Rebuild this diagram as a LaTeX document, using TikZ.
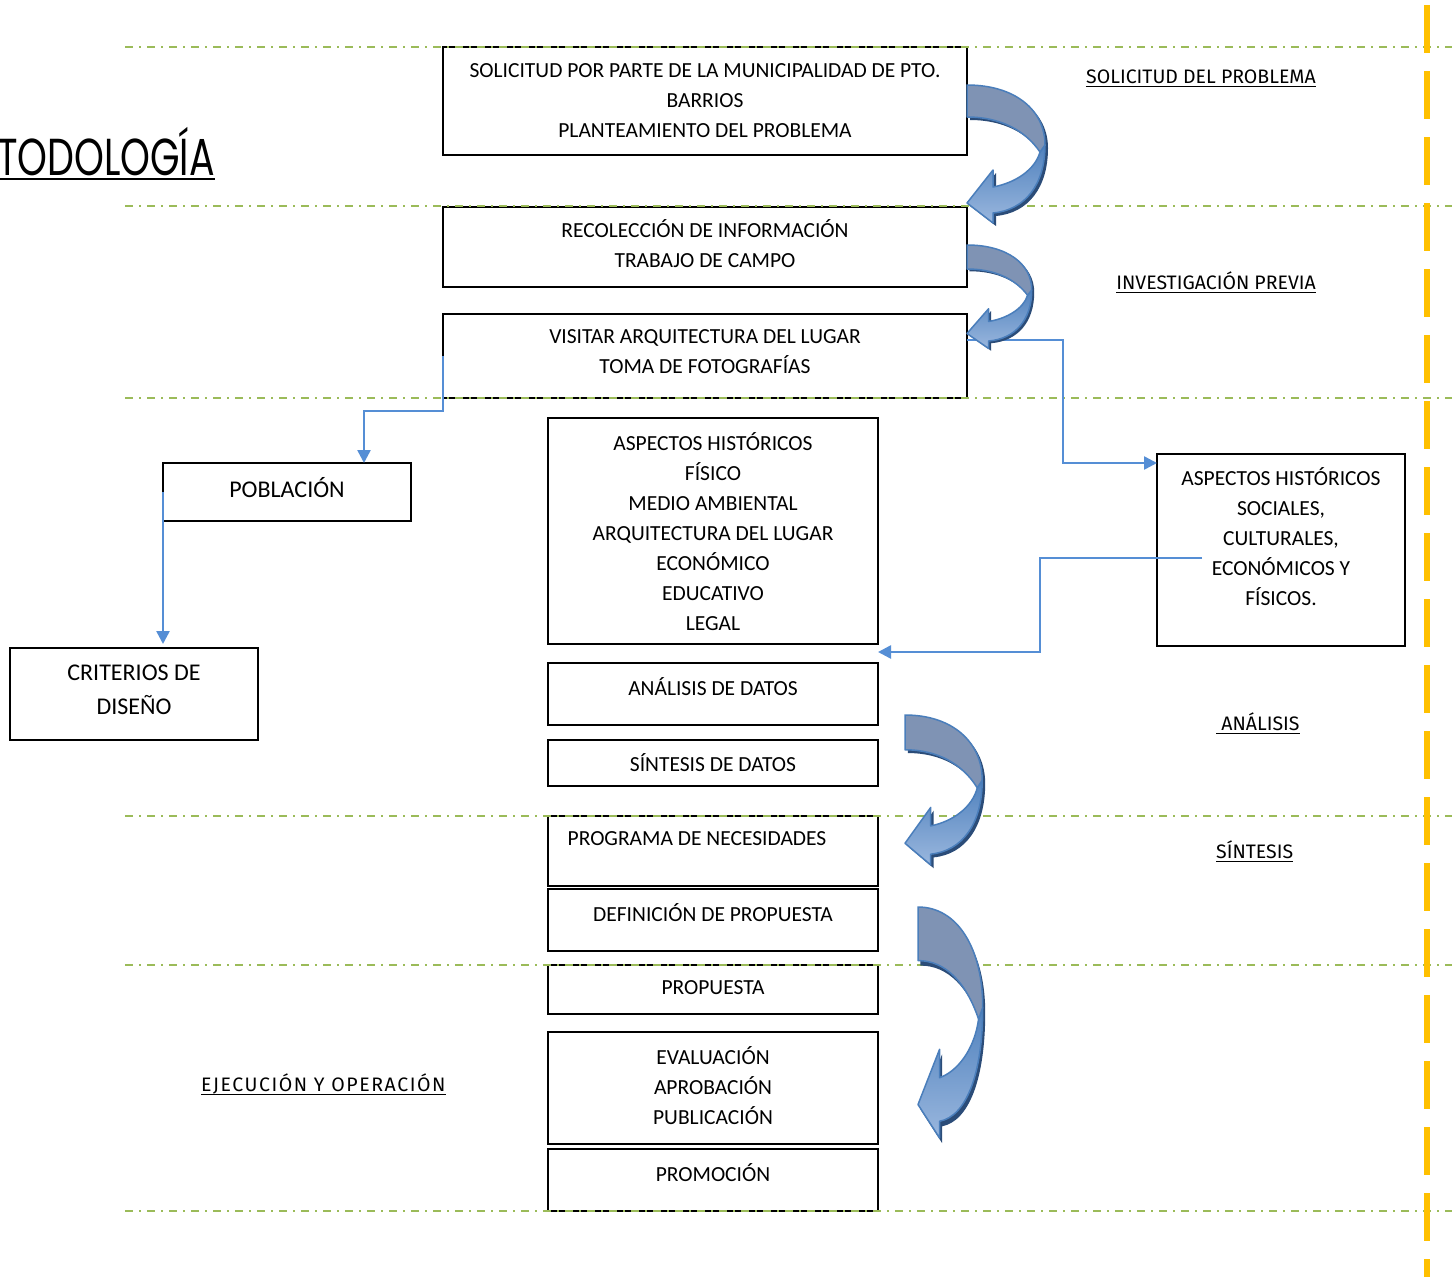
\documentclass[tikz,border=0pt]{standalone}
\usepackage{fontspec}
\setmainfont{Carlito}
\newfontfamily\lblfont{Fira Sans}
\newfontfamily\lblwide[LetterSpace=8]{Fira Sans}
\newfontfamily\titlefont[FakeStretch=0.73]{Poppins}
\usetikzlibrary{arrows.meta}
\definecolor{grn}{HTML}{9BBB59}
\definecolor{org}{HTML}{FFC000}
\definecolor{conn}{HTML}{558ED5}
\definecolor{arrgrey}{HTML}{7F93B4}
\definecolor{arrtop}{HTML}{4F81BD}
\definecolor{arrbot}{HTML}{9AB7DE}
\definecolor{arredge}{HTML}{4A7EBB}
\definecolor{arrshadow}{HTML}{2B4C78}
\tikzset{
  boxr/.style={draw=black, line width=1.8pt, inner sep=0, outer sep=0, anchor=north west},
  txt/.style={font=\fontsize{21.5}{30}\selectfont, align=center, inner sep=0},
  bigtxt/.style={font=\fontsize{24}{34}\selectfont, align=center, inner sep=0},
  lbl/.style={font=\lblfont\fontsize{19.5}{22}\selectfont, inner sep=0, anchor=base west},
  uline/.style={line width=1.3pt},
  greenline/.style={grn, line width=2.5pt, dash pattern=on 8pt off 6pt on 2pt off 6pt},
  conn/.style={draw=conn, line width=2.5pt, -{Triangle[length=13pt,width=13pt]}},
  curvarrow/.pic={
    \fill[arrshadow] (3,3) .. controls (51,3) and (81,28) .. (81,63) .. controls (81,103) and (61,128) .. (29,131) -- (29,141) -- (3,121) -- (29,88) -- (29,105) .. controls (51,101) and (71,88) .. (76,70) .. controls (61,48) and (36,35) .. (3,35) -- cycle;
    \shade[top color=arrtop, bottom color=arrbot, draw=arredge, line width=1.5pt, line join=round]
      (78,60) .. controls (78,100) and (58,125) .. (26,128) -- (26,138) -- (0,118) -- (26,85) -- (26,102) .. controls (48,98) and (68,85) .. (73,67) -- cycle;
    \filldraw[fill=arrgrey, draw=arredge, line width=1.5pt, line join=round]
      (0,0) .. controls (48,0) and (78,25) .. (78,60) -- (73,67) .. controls (58,45) and (33,32) .. (0,32) -- cycle;
  }
}
\begin{document}
\begin{tikzpicture}[x=1pt,y=-1pt]
\clip (0,0) rectangle (1452,1277);
\fill[white] (0,0) rectangle (1452,1277);

% title
\node[font=\titlefont\fontsize{52}{60}\selectfont, anchor=base east, inner sep=0] (title) at (215,175) {METODOLOGÍA};
\draw[line width=2pt] ([yshift=-4pt]title.base west) -- ([yshift=-4pt]title.base east);

% boxes
\node[boxr, minimum width=524pt, minimum height=108pt] (b1) at (443,47) {};
\node[boxr, minimum width=524pt, minimum height=80pt] (b2) at (443,207) {};
\node[boxr, minimum width=524pt, minimum height=84pt] (b3) at (443,314) {};
\node[boxr, minimum width=330pt, minimum height=226pt] (b4) at (548,418) {};
\node[boxr, minimum width=330pt, minimum height=62pt] (b5) at (548,663) {};
\node[boxr, minimum width=330pt, minimum height=46pt] (b6) at (548,740) {};
\node[boxr, minimum width=330pt, minimum height=70pt] (b7) at (548,816) {};
\node[boxr, minimum width=330pt, minimum height=62pt] (b8) at (548,889) {};
\node[boxr, minimum width=330pt, minimum height=49pt] (b9) at (548,965) {};
\node[boxr, minimum width=330pt, minimum height=112pt] (b10) at (548,1032) {};
\node[boxr, minimum width=330pt, minimum height=62pt] (b11) at (548,1149) {};
\node[boxr, minimum width=248pt, minimum height=58pt] (pob) at (163,463) {};
\node[boxr, minimum width=248pt, minimum height=92pt] (crit) at (10,648) {};
\node[boxr, minimum width=248pt, minimum height=192pt] (rb) at (1157,454) {};

% box texts
\node[txt] (t1) at (705,101) {SOLICITUD POR PARTE DE LA MUNICIPALIDAD DE PTO.\\BARRIOS\\PLANTEAMIENTO DEL PROBLEMA};
\node[txt] (t2) at (705,244) {RECOLECCIÓN DE INFORMACIÓN\\TRABAJO DE CAMPO};
\node[txt] (t3) at (705,352) {VISITAR ARQUITECTURA DEL LUGAR\\TOMA DE FOTOGRAFÍAS};
\node[txt] (t4) at (713,532) {ASPECTOS HISTÓRICOS\\FÍSICO\\MEDIO AMBIENTAL\\ARQUITECTURA DEL LUGAR\\ECONÓMICO\\EDUCATIVO\\LEGAL};
\node[txt] (t5) at (713,687) {ANÁLISIS DE DATOS};
\node[txt] (t6) at (713,763) {SÍNTESIS DE DATOS};
\node[txt] (t7) at (697,839) {PROGRAMA DE NECESIDADES};
\node[txt] (t8) at (713,913) {DEFINICIÓN DE PROPUESTA};
\node[txt] (t9) at (713,988) {PROPUESTA};
\node[txt] (t10) at (713,1086) {EVALUACIÓN\\APROBACIÓN\\PUBLICACIÓN};
\node[txt] (t11) at (713,1173) {PROMOCIÓN};
\node[bigtxt] (tp) at (287,488) {POBLACIÓN};
\node[bigtxt] (tc) at (134,690) {CRITERIOS DE\\DISEÑO};
\node[txt] (tr) at (1281,537) {ASPECTOS HISTÓRICOS\\SOCIALES,\\CULTURALES,\\ECONÓMICOS Y\\FÍSICOS.};

% section lines
\foreach \yy in {47,206,398,816,965,1211}
  \draw[greenline] (125,\yy) -- (1452,\yy);
\draw[org, line width=6pt, dash pattern=on 48pt off 18pt] (1427,5) -- (1427,1290);

% labels
\node[lbl, anchor=base east] (l1) at (1316,83.5) {SOLICITUD DEL PROBLEMA};
\node[lbl, anchor=base east] (l2) at (1316,289.5) {INVESTIGACIÓN PREVIA};
\node[lbl] (l3) at (1216,730.5) {\ ANÁLISIS};
\node[lbl] (l4) at (1216,858.5) {SÍNTESIS};
\node[lbl, font=\lblwide\fontsize{19.5}{22}\selectfont] (l5) at (201,1091.5) {EJECUCIÓN Y OPERACIÓN};
\foreach \n in {l1,l2,l3,l4,l5}
  \draw[uline] ([yshift=-3pt]\n.base west) -- ([yshift=-3pt]\n.base east);

% connectors
\draw[conn] (b3.west) |- ([xshift=77pt,yshift=52pt]pob.north) -- ([xshift=77pt]pob.north);
\draw[conn] (pob.west) -- ([xshift=29pt,yshift=4pt]crit.north);
\draw[conn] ([yshift=16pt]b3.east) -- ++(96,0) |- ([yshift=87pt]rb.west);
\coordinate (rbs) at ([xshift=45pt,yshift=-8pt]rb.west);
\draw[conn] (rbs) -- ++(-162,0) |- ([yshift=-8pt]b4.south east);

% curved arrows
\pic at (967,85) {curvarrow};
\pic[xscale=0.83, yscale=0.75] at (967,245) {curvarrow};
\pic[xscale=0.99, yscale=1.087] at (905,715) {curvarrow};
\pic[xscale=0.83, yscale=1.674] at (918,907) {curvarrow};
\end{tikzpicture}
\end{document}
